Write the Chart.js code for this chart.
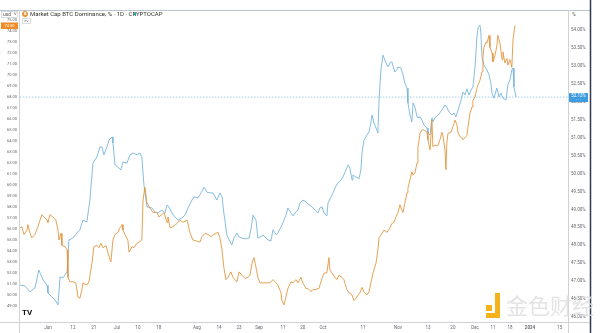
<!DOCTYPE html>
<html>
<head>
<meta charset="utf-8">
<script src="https://cdn.jsdelivr.net/npm/chart.js@4/dist/chart.umd.min.js"></script>
<style>
  html, body { margin: 0; padding: 0; background: #fff; }
  canvas { display: block; }
</style>
</head>
<body>
<canvas id="chart" width="600" height="333"></canvas>
<script>
// x values are days counted from the "Jun" tick
const xMin = -12;
const xMax = 223.2;
const xTickDays = [0, 10.7, 19.7, 29.6, 38.6, 47.6, 63.9, 73.4, 82, 90.6, 100.9, 109.4, 118, 135.2, 150.2, 163.1, 173.8, 183.3, 191, 198.3, 206.9, 219.7];
const xTickLabels = ['Jun', '12', '21', 'Jul', '10', '18', 'Aug', '14', '23', 'Sep', '11', '20', 'Oct', '11', 'Nov', '13', '20', 'Dec', '11', '18', '2024', '15'];

const leftTicks = [75, 74, 73, 72, 71, 70, 69, 68, 67, 66, 65, 64, 63, 62, 61, 60, 59, 58, 57, 56, 55, 54, 53, 52, 51, 50, 49];
const rightTicks = [54, 53.5, 53, 52.5, 52, 51.5, 51, 50.5, 50, 49.5, 49, 48.5, 48, 47.5, 47, 46.5, 46];

// orange series (left scale): [day, value]
const dominancePoints = [
    [-12.0,56.1],[-11.2,56.2],[-10.3,55.5],[-9.0,55.9],[-8.6,56.4],[-7.7,55.6],[-6.9,55.2],[-5.6,55.5],[-4.3,56.2],[-3.4,56.8],
    [-2.6,57.3],[-1.3,57.0],[-0.4,56.8],[0,56.6],[0.9,57.3],[2.1,57.1],[3.4,56.8],[4.3,55.9],[4.7,55.0],[5.6,55.6],
    [6.0,54.5],[7.3,54.4],[8.2,54.1],[8.6,51.6],[9.4,51.2],[10.7,51.2],[12.0,51.1],[12.9,49.8],[13.7,49.7],[14.6,50.5],
    [15.0,51.1],[16.7,50.9],[17.6,51.2],[18.9,52.9],[19.7,54.4],[21.0,54.5],[21.9,54.3],[22.7,54.7],[23.6,54.3],[24.9,54.5],
    [25.8,53.8],[27.0,53.0],[27.9,55.0],[28.8,55.5],[30.0,55.7],[30.9,56.1],[31.8,56.4],[32.2,55.9],[33.0,55.5],[34.3,55.0],
    [34.8,53.9],[36.1,54.4],[36.9,54.3],[38.2,54.7],[39.1,54.8],[40.3,55.0],[40.8,58.6],[41.6,59.8],[42.5,58.4],[43.8,57.9],
    [45.1,57.5],[46.8,57.5],[47.6,57.1],[48.9,57.3],[49.8,57.5],[51.1,56.6],[51.5,57.1],[52.4,56.1],[53.6,56.2],[55.4,56.5],
    [56.7,56.8],[57.9,56.6],[59.7,56.8],[60.9,55.7],[62.2,55.0],[64.0,54.9],[65.2,54.8],[66.1,55.3],[67.4,55.6],[68.7,55.5],
    [70.0,55.3],[71.2,55.5],[73.0,55.7],[73.8,55.2],[74.7,54.1],[75.5,52.5],[76.4,51.4],[77.3,51.6],[78.5,52.1],[79.4,51.6],
    [81.1,51.2],[82.0,52.1],[83.3,51.8],[84.6,51.5],[85.8,51.6],[86.7,51.8],[87.6,52.9],[88.4,53.4],[89.3,52.5],[90.1,51.6],
    [91.0,51.1],[92.3,51.1],[94.0,51.1],[95.3,51.1],[96.6,51.4],[97.9,51.1],[98.7,50.9],[100.0,50.2],[100.4,49.5],[101.3,49.1],
    [102.1,49.8],[103.0,50.6],[104.3,51.2],[105.2,51.1],[106.4,51.4],[107.3,51.1],[108.6,51.6],[109.4,51.1],[110.7,50.6],[111.6,50.6],
    [112.9,50.3],[113.7,50.5],[115.0,50.5],[116.3,50.6],[117.6,51.5],[118.5,52.0],[119.7,52.0],[120.6,53.4],[121.0,52.3],[121.9,52.0],
    [123.2,51.6],[124.0,51.4],[124.9,51.8],[126.2,51.6],[127.0,51.4],[128.3,50.5],[129.2,50.2],[130.5,50.0],[131.3,49.5],[132.2,49.7],
    [133.1,50.0],[133.9,50.2],[134.8,50.7],[135.6,50.3],[136.9,50.0],[137.8,50.3],[138.6,51.1],[139.5,52.0],[140.8,52.9],[141.6,54.1],
    [142.1,55.2],[143.4,55.6],[144.2,55.9],[145.5,55.7],[146.8,56.1],[147.6,56.5],[148.5,56.6],[149.4,57.1],[150.2,57.5],[151.1,58.2],
    [151.9,57.7],[152.4,57.5],[153.2,58.4],[154.1,59.3],[154.5,59.7],[155.4,60.5],[156.2,61.2],[156.7,60.9],[157.5,61.1],[158.4,62.0],
    [158.8,63.4],[159.7,64.7],[160.5,65.0],[161.4,65.0],[162.7,64.8],[163.1,64.1],[164.0,63.2],[164.8,65.9],[165.2,63.5],[166.1,63.6],
    [167.4,63.6],[168.2,64.1],[169.1,64.8],[169.5,64.5],[170.4,63.2],[170.8,61.4],[171.2,63.8],[171.7,64.7],[173.0,64.8],[173.8,65.3],
    [174.7,65.9],[175.5,65.5],[176.0,64.8],[176.8,64.4],[177.7,64.3],[178.1,64.1],[179.8,64.5],[180.3,65.3],[181.1,66.5],[182.0,67.1],
    [182.4,67.7],[183.3,68.0],[184.1,68.8],[184.6,69.1],[185.4,69.5],[186.3,70.3],[186.7,71.6],[187.1,72.5],[188.0,73.0],[188.4,72.9],
    [189.3,73.6],[189.7,72.5],[190.6,72.0],[191.0,71.2],[191.9,71.8],[192.7,72.7],[193.1,73.6],[194.0,72.9],[194.9,71.4],[195.3,72.1],
    [196.1,71.1],[197.0,71.5],[197.4,70.9],[198.3,71.4],[199.1,70.7],[199.6,73.2],[200.4,74.5]
];

// blue series (right scale, %): [day, value]
const comparePoints = [
    [-12.0,46.89],[-9.9,46.87],[-7.7,46.70],[-5.6,46.81],[-3.9,47.31],[-2.1,47.03],[-0.4,46.89],[0,46.67],[1.7,46.56],[3.0,46.48],
    [4.3,46.34],[5.2,47.12],[6.4,47.09],[8.2,47.26],[9.0,48.15],[10.7,48.20],[12.4,48.34],[13.7,48.43],[15.0,48.70],[16.7,48.65],
    [18.0,49.26],[19.3,50.29],[21.0,50.46],[22.3,50.74],[23.2,50.74],[24.0,50.52],[25.3,50.74],[26.2,50.93],[27.5,51.02],[27.9,50.85],
    [28.8,50.24],[30.0,50.18],[31.3,50.10],[32.2,50.32],[33.9,50.29],[35.2,50.52],[36.5,50.57],[38.2,50.52],[39.5,50.57],[40.3,50.46],
    [41.2,49.68],[42.5,49.07],[44.6,49.04],[45.9,48.93],[47.2,48.90],[48.9,48.98],[50.2,48.90],[51.1,49.12],[51.9,49.07],[53.2,48.90],
    [54.5,48.79],[55.8,48.70],[57.5,48.76],[58.8,48.84],[60.1,49.04],[61.8,49.26],[62.7,49.35],[64.4,49.32],[65.7,49.46],[67.0,49.62],
    [68.2,49.48],[69.5,49.46],[70.8,49.46],[72.5,49.26],[73.8,49.46],[74.7,49.35],[75.5,48.90],[76.8,48.29],[77.7,48.15],[78.9,48.01],
    [79.8,48.20],[81.1,48.34],[82.0,48.23],[83.3,48.20],[85.0,48.18],[86.3,48.20],[87.1,48.43],[88.0,48.84],[89.3,48.70],[90.1,48.20],
    [91.0,48.23],[92.3,48.29],[93.6,48.20],[94.4,48.15],[95.7,48.12],[96.6,48.43],[97.9,48.29],[98.7,48.34],[100.0,48.51],[100.8,48.62],
    [102.1,48.84],[103.0,49.04],[104.3,48.90],[105.2,48.82],[106.4,48.93],[107.3,48.98],[108.2,49.18],[109.4,49.26],[110.7,49.21],[111.6,49.15],
    [113.3,49.07],[114.6,48.98],[115.9,48.90],[116.7,49.04],[117.6,49.07],[118.5,48.90],[119.7,48.82],[120.2,49.18],[121.5,49.35],[122.3,49.46],
    [123.6,49.65],[124.5,49.74],[125.8,49.82],[126.6,49.90],[127.9,50.10],[128.8,50.24],[129.6,50.15],[130.5,49.82],[130.9,49.96],[132.2,49.90],
    [133.1,49.88],[133.5,49.85],[134.3,50.10],[134.8,50.57],[135.6,50.93],[136.9,51.07],[137.8,51.16],[138.6,51.41],[139.1,51.63],[139.9,51.41],
    [141.2,51.21],[141.6,51.13],[142.1,52.05],[142.9,52.89],[143.8,53.30],[145.1,53.08],[145.9,52.97],[146.8,53.08],[147.6,53.11],[148.9,52.83],
    [149.8,52.89],[150.2,52.97],[151.5,52.94],[152.4,52.75],[153.2,52.52],[154.1,52.38],[154.5,51.97],[155.4,51.63],[156.2,51.44],[156.7,51.97],
    [157.5,51.85],[158.4,51.58],[158.8,51.55],[159.7,51.58],[160.5,51.49],[161.4,51.35],[162.7,51.27],[163.1,51.13],[164.0,51.07],[164.8,51.55],
    [165.2,51.44],[166.1,51.55],[167.4,51.63],[168.2,51.69],[169.1,51.77],[170.4,51.91],[171.2,51.85],[171.7,51.77],[172.5,51.69],[173.4,51.63],
    [174.3,51.69],[175.1,51.58],[176.0,51.77],[177.3,52.05],[178.1,52.27],[179.0,52.19],[179.8,52.36],[180.7,52.19],[181.6,52.33],[182.4,52.41],
    [183.3,52.97],[184.1,53.80],[184.6,54.06],[185.4,54.14],[185.8,53.92],[186.3,53.25],[187.1,53.02],[188.4,52.89],[189.3,52.75],[190.1,52.52],
    [190.6,52.24],[191.4,52.10],[192.7,52.38],[193.6,52.13],[194.4,52.24],[195.3,52.10],[196.6,52.05],[197.4,52.47],[198.3,52.61],[199.1,52.89],
    [199.6,52.94],[200.0,52.41],[200.9,52.13]
];

const ORANGE = '#e3963f';
const BLUE = '#78b6dc';
const FONT = 'Roboto, "Liberation Sans", sans-serif';

const toXY = pts => pts.map(p => ({ x: p[0], y: p[1] }));
const lastOrange = dominancePoints[dominancePoints.length - 1][1];
const lastBlue = comparePoints[comparePoints.length - 1][1];

const axisTicks = extra => Object.assign({
    color: '#666',
    font: { size: 4.5, family: FONT },
}, extra);
const noGrid = { display: false, drawTicks: false, tickLength: 0 };

// frame, header, price labels and watermark, TradingView style
const decor = {
    id: 'decor',
    beforeDraw(chart) {
        const { ctx } = chart;
        ctx.save();
        ctx.fillStyle = '#fff';
        ctx.fillRect(0, 0, chart.width, chart.height);
        ctx.restore();
    },
    afterDraw(chart) {
        const { ctx, chartArea: a, scales } = chart;
        ctx.save();

        // frame lines
        ctx.lineWidth = 1;
        ctx.strokeStyle = '#b9c4cf';
        ctx.beginPath();
        ctx.moveTo(0, a.top + 0.5); ctx.lineTo(590, a.top + 0.5);
        ctx.stroke();
        ctx.strokeStyle = '#cfd3d8';
        ctx.beginPath();
        ctx.moveTo(0, a.bottom + 0.5); ctx.lineTo(590, a.bottom + 0.5);
        ctx.moveTo(a.left - 0.5, a.top); ctx.lineTo(a.left - 0.5, chart.height);
        ctx.moveTo(a.right + 0.5, a.top); ctx.lineTo(a.right + 0.5, chart.height);
        ctx.stroke();
        ctx.strokeStyle = '#2c3b52';
        ctx.lineWidth = 1.5;
        ctx.beginPath();
        ctx.moveTo(590.5, 0); ctx.lineTo(590.5, chart.height);
        ctx.stroke();

        // header / legend
        ctx.textBaseline = 'middle';
        ctx.font = '5px ' + FONT;
        ctx.strokeStyle = '#c9cdd2';
        ctx.lineWidth = 0.7;
        ctx.strokeRect(1.5, 11.5, 16, 6);
        ctx.fillStyle = '#555';
        ctx.fillText('usd  \u02C5', 3, 14.6);
        ctx.fillText('%', 572, 14.6);

        ctx.fillStyle = ORANGE;
        ctx.beginPath(); ctx.arc(25, 14, 3, 0, Math.PI * 2); ctx.fill();
        ctx.fillStyle = '#fff';
        ctx.font = 'bold 4px ' + FONT;
        ctx.fillText('B', 23.9, 14.3);
        ctx.fillStyle = '#333';
        ctx.font = '6px ' + FONT;
        ctx.fillText('Market Cap BTC Dominance, % \u00B7 1D \u00B7 CRYPTOCAP', 30, 14.4);
        ctx.fillStyle = '#26a69a';
        ctx.beginPath(); ctx.arc(135, 14, 1.4, 0, Math.PI * 2); ctx.fill();
        ctx.strokeStyle = '#c9cdd2';
        ctx.strokeRect(22.5, 18.5, 8, 5);
        ctx.fillStyle = '#666';
        ctx.font = '4px ' + FONT;
        ctx.fillText('\u02C4\u02C5', 24, 21.2);

        // last value tags
        const yo = scales.yL.getPixelForValue(lastOrange);
        ctx.fillStyle = '#f08a24';
        ctx.fillRect(1, yo - 3, 17, 6.5);
        ctx.fillStyle = '#fff';
        ctx.font = '4px ' + FONT;
        ctx.textAlign = 'center';
        ctx.fillText(lastOrange.toFixed(2), 9.5, yo + 0.3);

        const yb = scales.yR.getPixelForValue(lastBlue);
        ctx.fillStyle = '#3d9be0';
        ctx.fillRect(569, yb - 4, 19, 9);
        ctx.fillStyle = '#fff';
        ctx.font = '4.5px ' + FONT;
        ctx.fillText(lastBlue.toFixed(2) + '%', 578.5, yb - 1.3);
        ctx.fillText('\u00B7 \u00B7 \u00B7', 578.5, yb + 2.4);
        ctx.textAlign = 'left';

        // logo bottom-left
        ctx.fillStyle = '#111';
        ctx.font = 'bold 8px ' + FONT;
        ctx.fillText('TV', 22, 313);

        // watermark
        ctx.fillStyle = '#f5b21a';
        ctx.fillRect(486, 305, 6, 6);
        ctx.fillRect(495, 293, 5, 24);
        ctx.fillRect(486, 313, 14, 5);
        ctx.font = '22px "Noto Sans CJK SC", sans-serif';
        ctx.fillStyle = 'rgba(222,222,222,0.85)';
        ctx.fillText('\u91D1\u8272\u8D22\u7ECF', 506, 306);

        ctx.restore();
    }
};

new Chart(document.getElementById('chart'), {
    type: 'line',
    data: {
        datasets: [
            {
                label: 'Market Cap BTC Dominance, %',
                data: toXY(dominancePoints),
                yAxisID: 'yL',
                borderColor: ORANGE,
                borderWidth: 0.9,
                pointRadius: 0,
                tension: 0,
            },
            {
                label: 'compare',
                data: toXY(comparePoints),
                yAxisID: 'yR',
                borderColor: BLUE,
                borderWidth: 0.9,
                pointRadius: 0,
                tension: 0,
            },
            {
                label: 'last',
                data: [{ x: xMin, y: lastBlue }, { x: xMax, y: lastBlue }],
                yAxisID: 'yR',
                borderColor: '#8cc3e3',
                borderWidth: 0.8,
                borderDash: [1.5, 1.5],
                pointRadius: 0,
            },
        ],
    },
    options: {
        responsive: false,
        animation: false,
        layout: { padding: { top: 10, left: 0, right: 0, bottom: 0 } },
        plugins: { legend: { display: false }, tooltip: { enabled: false } },
        scales: {
            x: {
                type: 'linear',
                min: xMin,
                max: xMax,
                afterBuildTicks: s => { s.ticks = xTickDays.map(v => ({ value: v })); },
                afterFit: s => { s.height = 11; },
                ticks: axisTicks({
                    autoSkip: false,
                    maxRotation: 0,
                    padding: 3,
                    font: ctx => ({
                        size: 4.5,
                        family: FONT,
                        weight: xTickLabels[ctx.index] === '2024' ? 'bold' : 'normal',
                    }),
                    callback: (v, i) => xTickLabels[i],
                }),
                grid: noGrid,
                border: { display: false },
            },
            yL: {
                type: 'linear',
                position: 'left',
                min: 47.545,
                max: 75.909,
                afterBuildTicks: s => { s.ticks = leftTicks.map(v => ({ value: v })); },
                afterFit: s => { s.width = 20; },
                ticks: axisTicks({
                    padding: 3,
                    crossAlign: 'center',
                    font: { size: 4, family: FONT },
                    callback: v => v.toFixed(2),
                }),
                grid: noGrid,
                border: { display: false },
            },
            yR: {
                type: 'linear',
                position: 'right',
                min: 45.862,
                max: 54.557,
                afterBuildTicks: s => { s.ticks = rightTicks.map(v => ({ value: v })); },
                afterFit: s => { s.width = 32; },
                ticks: axisTicks({
                    padding: 3,
                    callback: v => v.toFixed(2) + '%',
                }),
                grid: noGrid,
                border: { display: false },
            },
        },
    },
    plugins: [decor],
});
</script>
</body>
</html>
